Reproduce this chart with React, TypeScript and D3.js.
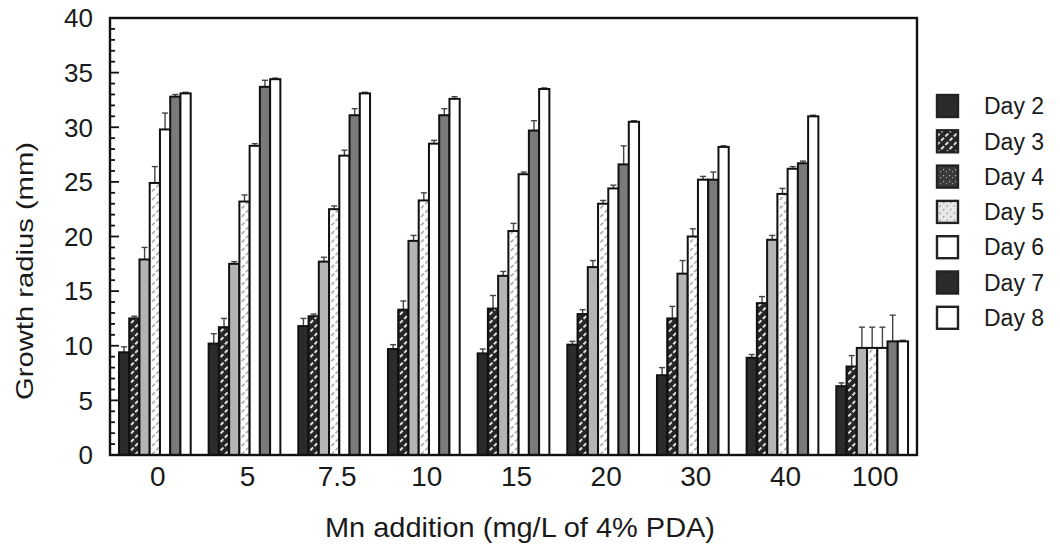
import React from 'react';
import * as d3 from 'd3';

const CATEGORIES = ['0', '5', '7.5', '10', '15', '20', '30', '40', '100'];
const DAYS = ['Day 2', 'Day 3', 'Day 4', 'Day 5', 'Day 6', 'Day 7', 'Day 8'];

const DAY2 = [9.4, 10.2, 11.8, 9.7, 9.3, 10.1, 7.3, 8.9, 6.3];
const DAY3 = [12.5, 11.7, 12.7, 13.3, 13.4, 12.9, 12.5, 13.9, 8.1];
const DAY4 = [17.9, 17.5, 17.7, 19.6, 16.4, 17.2, 16.6, 19.7, 9.8];
const DAY5 = [24.9, 23.2, 22.5, 23.3, 20.5, 23.0, 20.0, 23.9, 9.8];
const DAY6 = [29.8, 28.3, 27.4, 28.5, 25.7, 24.4, 25.2, 26.2, 9.8];
const DAY7 = [32.8, 33.7, 31.1, 31.1, 29.7, 26.6, 25.2, 26.7, 10.4];
const DAY8 = [33.1, 34.4, 33.1, 32.6, 33.5, 30.5, 28.2, 31.0, 10.4];

const ERR2 = [0.5, 0.9, 0.7, 0.4, 0.4, 0.3, 0.7, 0.3, 0.3];
const ERR3 = [0.2, 0.8, 0.2, 0.8, 1.2, 0.4, 1.1, 0.6, 1.0];
const ERR4 = [1.1, 0.2, 0.4, 0.5, 0.4, 0.6, 1.2, 0.4, 1.9];
const ERR5 = [1.5, 0.6, 0.3, 0.7, 0.7, 0.3, 0.7, 0.5, 1.9];
const ERR6 = [1.5, 0.2, 0.5, 0.3, 0.2, 0.3, 0.3, 0.2, 1.9];
const ERR7 = [0.2, 0.6, 0.6, 0.6, 0.9, 1.7, 0.7, 0.2, 2.4];
const ERR8 = [0.1, 0.1, 0.1, 0.2, 0.1, 0.1, 0.1, 0.1, 0.1];

const Y_TICKS = [0, 5, 10, 15, 20, 25, 30, 35, 40];

const SERIES = [DAY2, DAY3, DAY4, DAY5, DAY6, DAY7, DAY8];
const ERRORS = [ERR2, ERR3, ERR4, ERR5, ERR6, ERR7, ERR8];

// bar fills as they look in the plot, legend fills as they look in the key
const BAR_FILLS = ['#2b2b2b', 'url(#hatchDark)', '#b4b4b4', 'url(#hatchLight)', '#ffffff', '#7a7a7a', '#ffffff'];
const KEY_FILLS = ['#2b2b2b', 'url(#hatchDark)', 'url(#speckle)', 'url(#hatchKey)', '#ffffff', '#2b2b2b', '#ffffff'];

const FONT = '"Liberation Sans", Arial, Helvetica, sans-serif';

export default function App() {
  const width = 1060;
  const height = 544;
  const left = 110;
  const right = 917;
  const top = 18;
  const bottom = 455;

  const x0 = d3.scaleBand<string>().domain(CATEGORIES).range([left, right]).paddingInner(0.2).paddingOuter(0.1);
  const x1 = d3.scaleBand<string>().domain(DAYS).range([0, x0.bandwidth()]).padding(0);
  const y = d3.scaleLinear().domain([0, 40]).range([bottom, top]);

  const minor = d3.range(0, 41, 1);

  return (
    <svg width={width} height={height} style={{ position: 'absolute', left: 0, top: 0, background: '#fff' }} fontFamily={FONT}>
      <defs>
        <pattern id="hatchDark" width="6" height="6" patternUnits="userSpaceOnUse" patternTransform="rotate(45)">
          <rect width="6" height="6" fill="#262626" />
          <rect x="2" y="0" width="1.8" height="4" fill="#f2f2f2" />
        </pattern>
        <pattern id="hatchLight" width="6" height="6" patternUnits="userSpaceOnUse" patternTransform="rotate(45)">
          <rect width="6" height="6" fill="#fff" />
          <rect x="2" y="0" width="1.4" height="4" fill="#9a9a9a" />
        </pattern>
        <pattern id="hatchKey" width="5" height="5" patternUnits="userSpaceOnUse" patternTransform="rotate(45)">
          <rect width="5" height="5" fill="#e8e8e8" />
          <line x1="0" y1="0" x2="0" y2="5" stroke="#555" strokeWidth="1.2" strokeDasharray="2 3" />
        </pattern>
        <pattern id="speckle" width="6" height="6" patternUnits="userSpaceOnUse">
          <rect width="6" height="6" fill="#3a3a3a" />
          <rect x="1" y="1" width="1.2" height="1.2" fill="#bbb" />
          <rect x="4" y="3" width="1.2" height="1.2" fill="#999" />
        </pattern>
      </defs>

      {/* bars */}
      {CATEGORIES.map((c, ci) => (
        <g key={c} transform={`translate(${x0(c)},0)`}>
          {SERIES.map((s, si) => {
            const bx = x1(DAYS[si]) as number;
            const bw = x1.bandwidth();
            const v = s[ci];
            const e = ERRORS[si][ci];
            const cx = bx + bw / 2;
            return (
              <g key={si}>
                <line x1={cx} x2={cx} y1={y(v)} y2={y(v + e)} stroke="#444" strokeWidth={1.4} />
                <line x1={cx - 3} x2={cx + 3} y1={y(v + e)} y2={y(v + e)} stroke="#444" strokeWidth={1.4} />
                <rect x={bx} y={y(v)} width={bw} height={bottom - y(v)} fill={BAR_FILLS[si]} stroke="#111" strokeWidth={2} />
              </g>
            );
          })}
        </g>
      ))}

      {/* frame */}
      <rect x={left} y={top} width={right - left} height={bottom - top} fill="none" stroke="#111" strokeWidth={2.4} />

      {/* y ticks, pointing inward */}
      {minor.map((t) => (
        <line key={t} x1={left} x2={left + (t % 5 === 0 ? 9 : 5)} y1={y(t)} y2={y(t)} stroke="#111" strokeWidth={1.8} />
      ))}
      {Y_TICKS.map((t) => (
        <text key={t} x={left - 17} y={y(t)} dy="0.36em" textAnchor="end" fontSize={26} fill="#1a1a1a">{t}</text>
      ))}

      {/* x labels */}
      {CATEGORIES.map((c) => (
        <text key={c} x={(x0(c) as number) + x0.bandwidth() / 2 + 3} y={486} textAnchor="middle" fontSize={28} fill="#1a1a1a">{c}</text>
      ))}

      <text x={520} y={537} textAnchor="middle" fontSize={28} textLength={390} lengthAdjust="spacingAndGlyphs" fill="#1a1a1a">Mn addition (mg/L of 4% PDA)</text>
      <text transform="translate(33,271) rotate(-90)" textAnchor="middle" fontSize={24} textLength={258} lengthAdjust="spacingAndGlyphs" fill="#1a1a1a">Growth radius (mm)</text>

      {/* legend */}
      {DAYS.map((d, i) => {
        const ly = 106 + i * 35.3;
        return (
          <g key={d}>
            <rect x={937} y={ly - 11} width={21} height={22} fill={KEY_FILLS[i]} stroke="#222" strokeWidth={2.4} />
            <text x={984} y={ly} dy="0.36em" fontSize={23} fill="#1a1a1a">{d}</text>
          </g>
        );
      })}
    </svg>
  );
}
